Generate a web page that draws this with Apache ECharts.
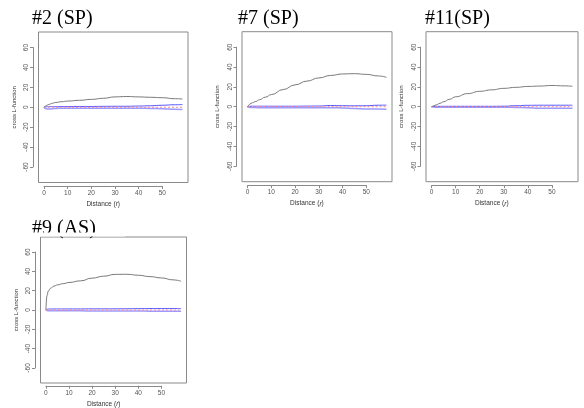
<!DOCTYPE html>
<html>
<head>
<meta charset="utf-8">
<script src="https://cdn.jsdelivr.net/npm/echarts@6/dist/echarts.min.js"></script>
<style>
html, body { margin: 0; padding: 0; background: #fff; }
#main { width: 584px; height: 408px; }
</style>
</head>
<body>
<div id="main"></div>
<script>
// distance r (shared by all panels)
var distR = [0, 0.5, 1, 2, 3.5, 5, 7.5, 10, 15, 20, 25, 30, 35, 40, 45, 50, 55, 58.5];
// theoretical value
var theo = [0, 0, 0, 0, 0, 0, 0, 0, 0, 0, 0, 0, 0, 0, 0, 0, 0, 0];

// #2 (SP)
var obs2 = [0, 1, 1.8, 2.8, 4, 4.8, 5.6, 6.2, 7, 7.9, 9, 10.4, 10.8, 10.4, 10, 9.6, 8.6, 8.3];
var hi2 = [0, 0.3, 0.5, 0.6, 0.6, 0.6, 0.7, 0.7, 0.8, 0.8, 0.9, 1, 1, 1.2, 1.5, 2, 2.5, 2.7];
var lo2 = [0, -1.2, -1.6, -1.8, -1.5, -1.2, -1, -0.9, -0.9, -0.9, -0.9, -0.9, -1, -1, -1.2, -1.5, -2, -2.3];
// #7 (SP)
var obs7 = [0, 1.5, 2.8, 4, 5.3, 7, 9.6, 12.2, 17.3, 22, 25.8, 29, 31.5, 33, 33.3, 32.6, 31, 29.6];
var hi7 = [0, 0.3, 0.5, 0.5, 0.5, 0.5, 0.5, 0.5, 0.5, 0.5, 0.6, 0.7, 1.2, 1, 0.9, 1, 1.5, 1.6];
var lo7 = [0, -0.6, -0.8, -0.9, -0.9, -1, -1, -1, -1, -1, -1, -1, -1, -1.2, -1.8, -2.2, -2.4, -2.5];
// #11(SP)
var obs11 = [0, 0.5, 1, 2, 3.5, 5, 7.5, 10, 13.2, 15.5, 17, 18.5, 19.5, 20.4, 20.8, 21.4, 21, 20.6];
var hi11 = [0, 0.2, 0.3, 0.4, 0.4, 0.4, 0.4, 0.4, 0.4, 0.4, 0.4, 0.5, 1, 1.4, 1.5, 1.5, 1.5, 1.5];
var lo11 = [0, -0.3, -0.4, -0.5, -0.5, -0.5, -0.5, -0.5, -0.5, -0.5, -0.5, -0.5, -0.7, -1, -1.5, -1.6, -1.6, -1.6];
// #9 (AS)
var obs9 = [0, 15, 19.5, 22.5, 24.8, 26, 27.3, 28.5, 30.2, 33, 35, 36.9, 37, 36, 34.6, 33.2, 31.2, 29.8];
var hi9 = [0, 0.8, 1, 1.1, 1.1, 1.1, 1.1, 1.1, 1.1, 1.2, 1.2, 1.2, 1.3, 1.4, 1.5, 1.5, 1.5, 1.5];
var lo9 = [0, -0.6, -0.8, -0.9, -0.9, -0.9, -0.9, -0.9, -0.9, -1, -1, -1, -1, -1.1, -1.2, -1.2, -1.2, -1.2];

var xTicks = [0, 10, 20, 30, 40, 50];
var yTicks = [-60, -40, -20, 0, 20, 40, 60];

var titles = ['#2 (SP)', '#7 (SP)', '#11(SP)', '#9 (AS)'];
var obsList = [obs2, obs7, obs11, obs9];
var hiList = [hi2, hi7, hi11, hi9];
var loList = [lo2, lo7, lo11, lo9];

// plot boxes: left, top, width, height
var boxes = [
	[38.5, 32, 149.5, 150.5],
	[242, 31.7, 150, 150],
	[426, 31.7, 152, 150],
	[40.5, 237, 146, 146]
];
var titlePos = [[32, 9], [238, 9], [425, 9], [32, 219]];

var X_MIN = -2.34, X_MAX = 60.84;
var Y_MIN = -75.6, Y_MAX = 75.6;
var AX = '#8a8a8a';
var LAB = '#555';

function pairs(xs, ys) {
	var out = [];
	for(var i = 0; i < xs.length; i++) {
		out.push([xs[i], ys[i]]);
	}
	return out;
}

var option = {
	backgroundColor: '#fff',
	animation: false,
	title: [],
	grid: [],
	xAxis: [],
	yAxis: [],
	series: [],
	graphic: []
};

for(var p = 0; p < 4; p++) {
	var b = boxes[p];
	var L = b[0], T = b[1], W = b[2], H = b[3];
	var xs = W / (X_MAX - X_MIN);
	var ys = H / (Y_MAX - Y_MIN);
	var g = option.grid.length;

	option.title.push({
		text: titles[p],
		left: titlePos[p][0],
		top: titlePos[p][1],
		padding: 0,
		textStyle: { fontFamily: 'Liberation Serif', fontSize: 20, fontWeight: 'normal', color: '#000' }
	});

	// plot box
	option.grid.push({ left: L, top: T, width: W, height: H, show: true, borderColor: AX, borderWidth: 1, backgroundColor: 'transparent' });
	option.xAxis.push({ type: 'value', gridIndex: g, min: X_MIN, max: X_MAX, show: false });
	option.yAxis.push({ type: 'value', gridIndex: g, min: Y_MIN, max: Y_MAX, show: false });

	// y axis (drawn only from -60 to 60, slightly left of the box)
	option.grid.push({ left: L - 5.5, top: T + (Y_MAX - 60) * ys, width: 1, height: 120 * ys });
	option.xAxis.push({ type: 'value', gridIndex: g + 1, show: false });
	option.yAxis.push({
		type: 'value', gridIndex: g + 1, min: yTicks[0], max: yTicks[yTicks.length - 1], interval: 20,
		position: 'left',
		axisLine: { show: true, lineStyle: { color: AX, width: 1 } },
		axisTick: { show: true, length: 3, lineStyle: { color: AX } },
		axisLabel: { rotate: 90, fontSize: 6.5, color: LAB, margin: 3, fontFamily: 'Liberation Sans' },
		splitLine: { show: false },
		name: 'cross L-function',
		nameLocation: 'middle',
		nameRotate: 90,
		nameGap: 16,
		nameTextStyle: { fontSize: 6, color: '#333', fontFamily: 'Liberation Sans' }
	});

	// x axis (drawn only from 0 to 50, slightly below the box)
	option.grid.push({ left: L + (0 - X_MIN) * xs, top: T + H + 2.5, width: 50 * xs, height: 1 });
	option.xAxis.push({
		type: 'value', gridIndex: g + 2, min: xTicks[0], max: xTicks[xTicks.length - 1], interval: 10,
		position: 'bottom',
		axisLine: { show: true, lineStyle: { color: AX, width: 1 } },
		axisTick: { show: true, length: 3, lineStyle: { color: AX } },
		axisLabel: { fontSize: 6.5, color: LAB, margin: 4, fontFamily: 'Liberation Sans' },
		splitLine: { show: false },
		name: 'Distance ({i|r})',
		nameLocation: 'middle',
		nameGap: 15,
		nameTextStyle: {
			fontSize: 6.5, color: '#333', fontFamily: 'Liberation Sans',
			rich: { i: { fontSize: 6.5, fontStyle: 'italic', color: '#333', fontFamily: 'Liberation Sans' } }
		}
	});
	option.yAxis.push({ type: 'value', gridIndex: g + 2, show: false });

	var xi = option.xAxis.length - 3;
	var yi = option.yAxis.length - 3;

	// envelope lines, theoretical, observed
	option.series.push({
		type: 'line', xAxisIndex: xi, yAxisIndex: yi, data: pairs(distR, loList[p]),
		symbol: 'none', smooth: true, smoothMonotone: 'x',
		lineStyle: { color: '#9a9aff', width: 1.5 }
	});
	option.series.push({
		type: 'line', xAxisIndex: xi, yAxisIndex: yi, data: pairs(distR, hiList[p]),
		symbol: 'none', smooth: true, smoothMonotone: 'x',
		lineStyle: { color: '#5555ff', width: 1 }
	});
	option.series.push({
		type: 'line', xAxisIndex: xi, yAxisIndex: yi, data: pairs(distR, theo),
		symbol: 'none',
		lineStyle: { color: '#ff8c8c', width: 1, type: [2, 2] }
	});
	option.series.push({
		type: 'line', xAxisIndex: xi, yAxisIndex: yi, data: pairs(distR, obsList[p]),
		symbol: 'none', smooth: true, smoothMonotone: 'x',
		lineStyle: { color: '#7a7a7a', width: 1 }
	});
}

// the "#9 (AS)" heading is cut off at its lower edge in the figure
option.graphic.push({
	type: 'rect', z: 100,
	shape: { x: 25, y: 232.5, width: 100, height: 4 },
	style: { fill: '#fff' }
});

var myChart = echarts.init(document.getElementById('main'));
myChart.setOption(option);
</script>
</body>
</html>
